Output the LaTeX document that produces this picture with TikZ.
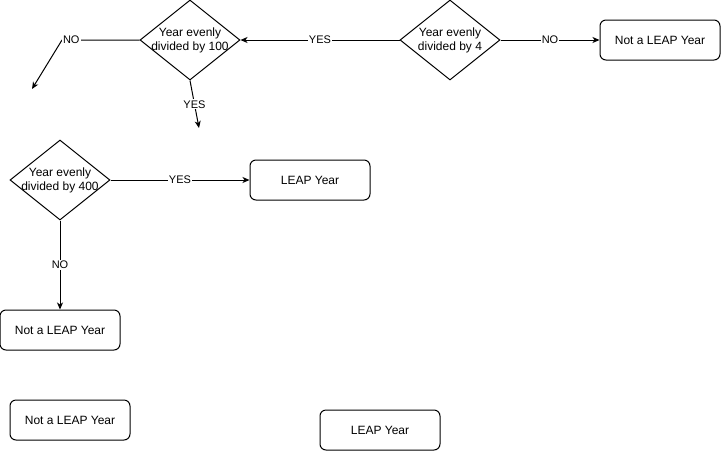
\documentclass[tikz,border=0pt]{standalone}
\usepackage{fontspec}
\setmainfont{Liberation Sans}
\usetikzlibrary{shapes.geometric}
\usetikzlibrary{arrows.meta}

\begin{document}
\begin{tikzpicture}[x=1pt, y=-1pt, line width=1pt,
  font=\fontsize{12}{14}\selectfont,
  dec/.style={diamond, draw, inner sep=0pt, minimum width=100pt, minimum height=80pt},
  term/.style={draw, rounded corners=6pt, minimum width=120pt, minimum height=40pt},
  arr/.style={-{Stealth[length=7pt,width=6pt,inset=2pt]}},
  lbl/.style={fill=white, inner sep=1pt, font=\fontsize{11}{13}\selectfont}]

\useasboundingbox (0,0) rectangle (721,451);

\node [dec, label={[align=center]center:Year evenly\\divided by 100}] (D100) at (190,40) {};
\node [dec, label={[align=center]center:Year evenly\\divided by 4}] (D4) at (450,40) {};
\node [term] (NOT1) at (660,40) {Not a LEAP Year};
\node [dec, label={[align=center]center:Year evenly\\divided by 400}] (D400) at (60,180) {};
\node [term] (LEAP1) at (310,180) {LEAP Year};
\node [term] (NOT2) at (60,330) {Not a LEAP Year};
\node [term] (NOT3) at (70,420) {Not a LEAP Year};
\node [term] (LEAP2) at (380,430) {LEAP Year};

\coordinate (NOBEND) at (62,40);
\coordinate (NOEND) at (32,89);
\coordinate (YESEND) at (199,128);

\draw [arr] (D4.west) to node [lbl] {YES} (D100.east);
\draw [arr] (D4.east) to node [lbl] {NO} (NOT1.west);
\draw [arr] (D100.west) -- node [lbl, pos=0.88] {NO} (NOBEND) -- (NOEND);
\draw [arr] (D100.south) to node [lbl] {YES} (YESEND);
\draw [arr] (D400.east) to node [lbl] {YES} (LEAP1.west);
\draw [arr] (D400.south) to node [lbl] {NO} (NOT2.north);
\end{tikzpicture}
\end{document}
